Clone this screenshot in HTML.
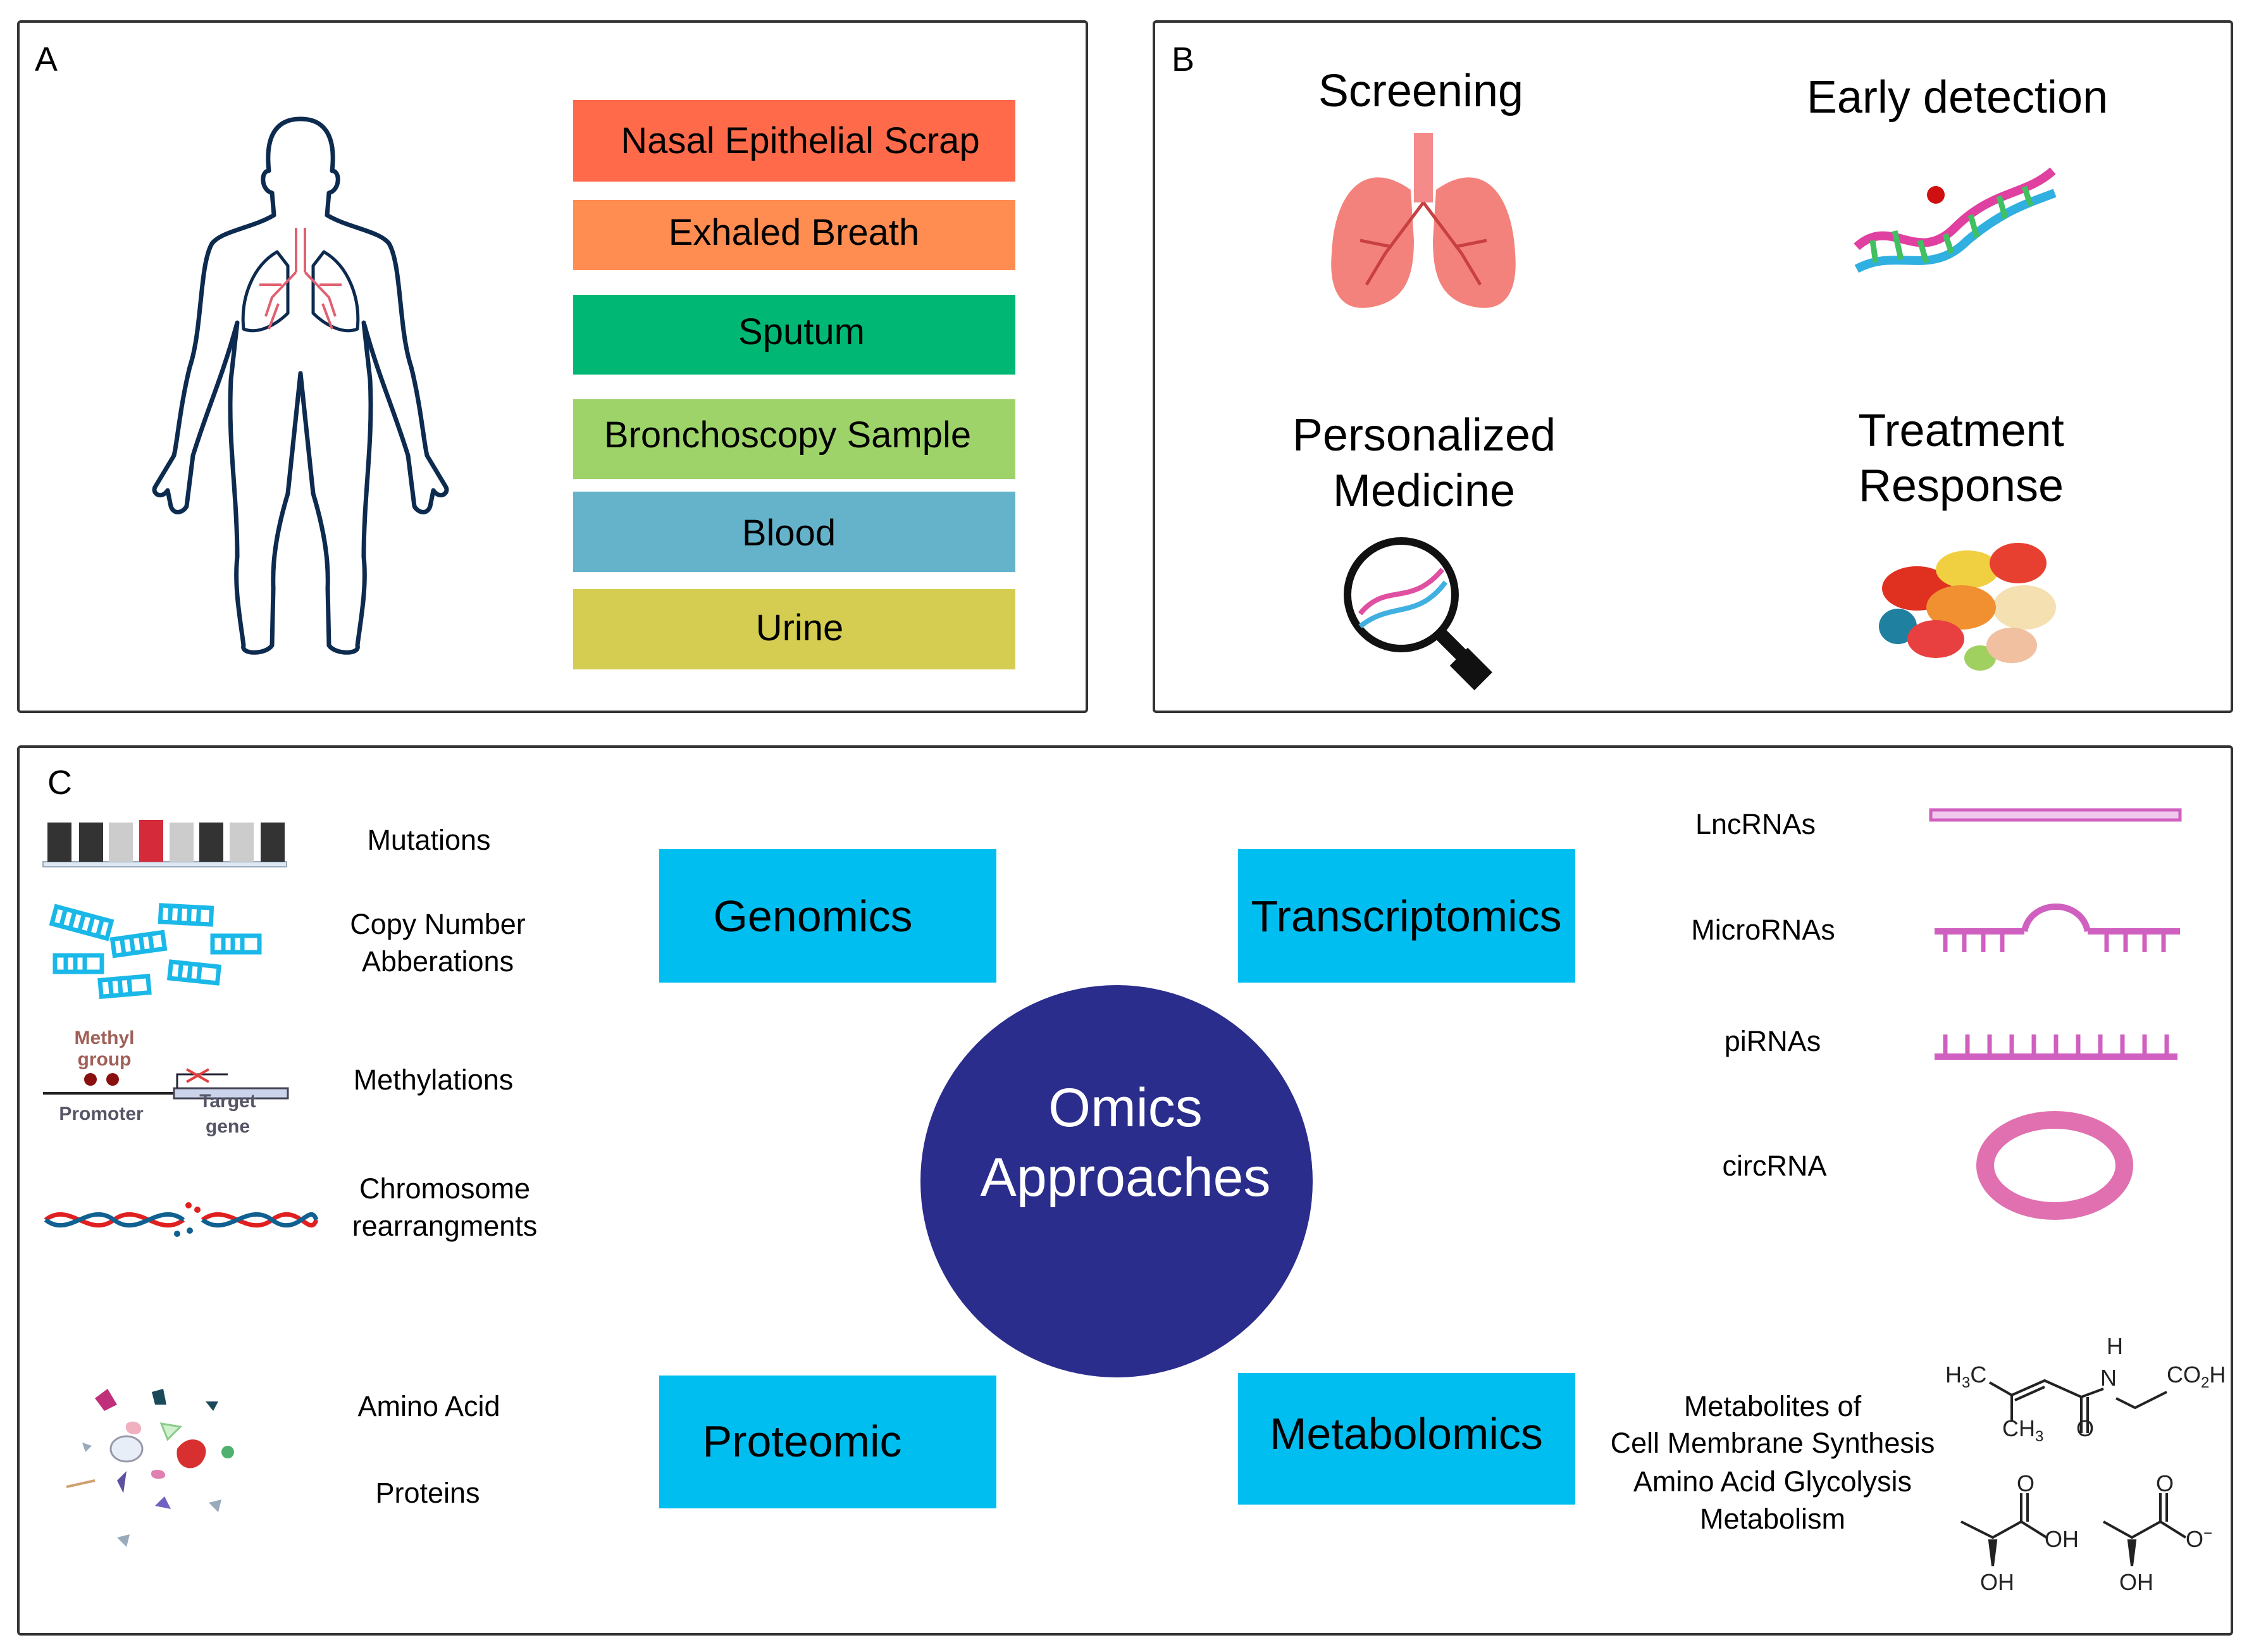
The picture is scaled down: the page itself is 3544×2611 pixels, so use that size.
<!DOCTYPE html>
<html><head><meta charset="utf-8"><style>
html,body{margin:0;padding:0;background:#fff}
svg{display:block}
text{font-family:"Liberation Sans",Arial,sans-serif}
</style></head><body>
<svg width="3544" height="2611" viewBox="0 0 3544 2611" xmlns="http://www.w3.org/2000/svg">
<rect x="29" y="34" width="1689" height="1091" fill="none" stroke="#333" stroke-width="4" rx="4"/>
<rect x="1824" y="34" width="1704" height="1091" fill="none" stroke="#333" stroke-width="4" rx="4"/>
<rect x="29" y="1180" width="3499" height="1403" fill="none" stroke="#333" stroke-width="4" rx="4"/>
<text x="55" y="112" font-size="54">A</text>
<text x="1852" y="112" font-size="54">B</text>
<text x="75" y="1255" font-size="54">C</text>

<g fill="none" stroke="#0d2a4f" stroke-width="7" stroke-linejoin="round">
<path d="M475 188 C430 188 420 225 425 270 C412 270 412 300 430 305 L433 340 C400 360 350 365 335 385 C315 420 320 520 300 580 C285 640 280 700 275 720 L245 770 C240 780 255 790 265 775 L270 800 C275 815 290 810 295 800 L305 720 C330 640 350 600 375 510 L365 600 C360 700 375 780 375 880 C370 930 380 980 385 1020 C380 1035 420 1035 430 1020 L432 930 C430 880 440 830 455 780 L475 590 L495 780 C510 830 520 880 518 930 L520 1020 C530 1035 570 1035 565 1020 C570 980 580 930 575 880 C575 780 590 700 585 600 L575 510 C600 600 620 640 645 720 L655 800 C660 810 675 815 680 800 L685 775 C695 790 710 780 705 770 L675 720 C670 700 665 640 650 580 C630 520 635 420 615 385 C600 365 550 360 517 340 L520 305 C538 300 538 270 525 270 C530 225 520 188 475 188 Z"/>
<path d="M438 398 C400 420 380 470 385 520 C410 530 440 510 455 495 L455 420 Z" stroke-width="5"/>
<path d="M512 398 C550 420 570 470 565 520 C540 530 510 510 495 495 L495 420 Z" stroke-width="5"/>
</g>
<g fill="none" stroke="#e06070" stroke-width="4">
<path d="M468 360 L468 430 M482 360 L482 430 M468 430 L430 470 L420 500 M482 430 L520 470 L530 500 M445 450 L410 450 M505 450 L540 450 M440 480 L425 520 M510 480 L525 520"/>
</g>

<g font-size="58" text-anchor="middle">
<rect x="906" y="158" width="699" height="129" fill="#ff6b4a"/><text x="1265" y="242">Nasal Epithelial Scrap</text>
<rect x="906" y="316" width="699" height="111" fill="#ff8c50"/><text x="1255" y="387">Exhaled Breath</text>
<rect x="906" y="466" width="699" height="126" fill="#00b874"/><text x="1267" y="544">Sputum</text>
<rect x="906" y="631" width="699" height="126" fill="#9ed36a"/><text x="1245" y="707">Bronchoscopy Sample</text>
<rect x="906" y="777" width="699" height="127" fill="#64b3cb"/><text x="1247" y="862">Blood</text>
<rect x="906" y="931" width="699" height="127" fill="#d4cd52"/><text x="1264" y="1012">Urine</text>
</g>

<g font-size="72" text-anchor="middle">
<text x="2246" y="168">Screening</text>
<text x="3094" y="178">Early detection</text>
<text x="2251" y="712">Personalized</text>
<text x="2251" y="800">Medicine</text>
<text x="3100" y="705">Treatment</text>
<text x="3100" y="792">Response</text>
</g>
<g>
<rect x="2235" y="210" width="30" height="110" fill="#f48a8a"/>
<path d="M2230 300 C2160 250 2110 300 2105 400 C2100 460 2120 495 2170 485 C2220 475 2235 440 2235 380 Z" fill="#f4827c"/>
<path d="M2270 300 C2340 250 2390 300 2395 400 C2400 460 2380 495 2330 485 C2280 475 2265 440 2265 380 Z" fill="#f4827c"/>
<path d="M2250 320 L2190 400 L2160 450 M2250 320 L2310 400 L2340 450 M2200 390 L2150 380 M2300 390 L2350 380" stroke="#c84040" stroke-width="5" fill="none"/>
</g>
<g stroke-width="14" fill="none">
<path d="M2935 390 C2990 340 3030 420 3090 360 C3150 300 3200 310 3245 270" stroke="#e040a0"/>
<path d="M2935 425 C3000 390 3050 440 3110 380 C3170 330 3210 320 3248 305" stroke="#30b0e0"/>
<path d="M2960 380 L2965 415 M2995 365 L3005 410 M3035 380 L3045 415 M3075 370 L3085 400 M3115 340 L3125 375 M3160 310 L3170 345 M3200 295 L3210 325" stroke="#40c060" stroke-width="9"/>
<circle cx="3060" cy="308" r="14" fill="#d01010" stroke="none"/>
</g>
<g>
<circle cx="2215" cy="940" r="85" fill="#fff" stroke="#111" stroke-width="12"/>
<path d="M2275 1000 L2340 1065" stroke="#111" stroke-width="22"/>
<rect x="2305" y="1030" width="40" height="55" fill="#111" transform="rotate(-45 2325 1057)"/>
<path d="M2150 970 C2190 920 2230 960 2280 900" stroke="#e050a0" stroke-width="8" fill="none"/>
<path d="M2150 990 C2200 950 2240 980 2285 920" stroke="#40b0e0" stroke-width="8" fill="none"/>
</g>
<g>
<ellipse cx="3030" cy="930" rx="55" ry="35" fill="#e03020"/>
<ellipse cx="3110" cy="900" rx="50" ry="30" fill="#f0d040"/>
<ellipse cx="3190" cy="890" rx="45" ry="32" fill="#e84030"/>
<ellipse cx="3200" cy="960" rx="50" ry="35" fill="#f4e0b0"/>
<ellipse cx="3100" cy="960" rx="55" ry="35" fill="#f09030"/>
<ellipse cx="3000" cy="990" rx="30" ry="28" fill="#2080a0"/>
<ellipse cx="3060" cy="1010" rx="45" ry="30" fill="#e84040"/>
<ellipse cx="3130" cy="1040" rx="25" ry="20" fill="#a0d060"/>
<ellipse cx="3180" cy="1020" rx="40" ry="28" fill="#f0c0a0"/>
</g>

<circle cx="1765" cy="1867" r="310" fill="#2a2d8c"/>
<text x="1779" y="1780" font-size="86" fill="#fff" text-anchor="middle">Omics</text>
<text x="1779" y="1890" font-size="86" fill="#fff" text-anchor="middle">Approaches</text>
<g font-size="70" text-anchor="middle">
<rect x="1042" y="1342" width="533" height="211" fill="#00bff0"/><text x="1285" y="1472">Genomics</text>
<rect x="1957" y="1342" width="533" height="211" fill="#00bff0"/><text x="2223" y="1472">Transcriptomics</text>
<rect x="1042" y="2174" width="533" height="210" fill="#00bff0"/><text x="1268" y="2302">Proteomic</text>
<rect x="1957" y="2170" width="533" height="208" fill="#00bff0"/><text x="2223" y="2290">Metabolomics</text>
</g>

<g font-size="45" text-anchor="middle">
<text x="678" y="1343">Mutations</text>
<text x="692" y="1476">Copy Number</text>
<text x="692" y="1535">Abberations</text>
<text x="685" y="1722">Methylations</text>
<text x="703" y="1894">Chromosome</text>
<text x="703" y="1953">rearrangments</text>
<text x="678" y="2238">Amino Acid</text>
<text x="676" y="2375">Proteins</text>
</g>
<g>
<rect x="68" y="1362" width="385" height="8" fill="#dde8f4" stroke="#9ab" stroke-width="2"/>
<rect x="75" y="1300" width="38" height="62" fill="#333"/>
<rect x="125" y="1300" width="38" height="62" fill="#333"/>
<rect x="172" y="1300" width="38" height="62" fill="#ccc"/>
<rect x="220" y="1296" width="38" height="66" fill="#d42a3a"/>
<rect x="268" y="1300" width="38" height="62" fill="#ccc"/>
<rect x="315" y="1300" width="38" height="62" fill="#333"/>
<rect x="363" y="1300" width="38" height="62" fill="#ccc"/>
<rect x="412" y="1300" width="38" height="62" fill="#333"/>
</g>
<g stroke="#1ab8e8" stroke-width="7" fill="none">
<g transform="translate(129,1458) rotate(15)"><rect x="-45" y="-14" width="90" height="28"/><path d="M-30 -14 V14 M-15 -14 V14 M0 -14 V14 M15 -14 V14 M30 -14 V14"/></g>
<g transform="translate(294,1446) rotate(3)"><rect x="-40" y="-13" width="80" height="26"/><path d="M-25 -13 V13 M-10 -13 V13 M5 -13 V13 M20 -13 V13"/></g>
<g transform="translate(219,1492) rotate(-8)"><rect x="-40" y="-13" width="80" height="26"/><path d="M-25 -13 V13 M-10 -13 V13 M5 -13 V13 M20 -13 V13"/></g>
<g transform="translate(373,1492)"><rect x="-37" y="-13" width="74" height="26"/><path d="M-20 -13 V13 M-5 -13 V13 M10 -13 V13"/></g>
<g transform="translate(124,1523)"><rect x="-37" y="-13" width="74" height="26"/><path d="M-20 -13 V13 M-5 -13 V13 M10 -13 V13"/></g>
<g transform="translate(307,1537) rotate(6)"><rect x="-38" y="-13" width="76" height="26"/><path d="M-22 -13 V13 M-7 -13 V13 M8 -13 V13"/></g>
<g transform="translate(197,1559) rotate(-5)"><rect x="-38" y="-13" width="76" height="26"/><path d="M-22 -13 V13 M-7 -13 V13 M8 -13 V13"/></g>
</g>
<g>
<text x="165" y="1650" font-size="30" fill="#a06058" text-anchor="middle" font-weight="bold">Methyl</text>
<text x="165" y="1684" font-size="30" fill="#a06058" text-anchor="middle" font-weight="bold">group</text>
<line x1="68" y1="1728" x2="275" y2="1728" stroke="#222" stroke-width="4"/>
<circle cx="143" cy="1706" r="10" fill="#8a1010"/><circle cx="178" cy="1706" r="10" fill="#8a1010"/>
<rect x="275" y="1720" width="180" height="16" fill="#cbd4ea" stroke="#445" stroke-width="3"/>
<path d="M280 1720 V1698 H360" stroke="#223" stroke-width="3" fill="none"/>
<path d="M295 1690 L330 1710 M295 1710 L330 1690" stroke="#e04040" stroke-width="4"/>
<text x="160" y="1770" font-size="30" fill="#556" text-anchor="middle" font-weight="bold">Promoter</text>
<text x="360" y="1750" font-size="30" fill="#556" text-anchor="middle" font-weight="bold">Target</text>
<text x="360" y="1790" font-size="30" fill="#556" text-anchor="middle" font-weight="bold">gene</text>
</g>
<g fill="none" stroke-width="7">
<path d="M72 1928 C110 1898 140 1958 180 1928 C220 1898 250 1958 290 1928 M320 1928 C360 1898 390 1958 430 1928 C470 1898 490 1958 500 1928" stroke="#e02020"/>
<path d="M72 1928 C110 1958 140 1898 180 1928 C220 1958 250 1898 290 1928 M320 1928 C360 1958 390 1898 430 1928 C470 1958 490 1898 500 1928" stroke="#106090"/>
</g>
<g fill="#e02020"><circle cx="298" cy="1905" r="5"/><circle cx="312" cy="1912" r="5"/><circle cx="300" cy="1945" r="5" fill="#106090"/><circle cx="280" cy="1950" r="5" fill="#106090"/></g>
<g>
<path d="M150 2210 l20 -15 l15 25 l-20 10 z" fill="#c0307a"/>
<path d="M240 2200 l18 -5 l5 25 l-18 0 z" fill="#1a4a5a"/>
<path d="M325 2215 l20 0 l-8 15 z" fill="#1a4a5a"/>
<path d="M200 2250 c15 -10 30 5 20 15 c-10 5 -25 0 -20 -15z" fill="#f0b0c0"/>
<path d="M255 2250 l30 5 l-20 20 z" fill="#d0f0d0" stroke="#8c8" stroke-width="3"/>
<ellipse cx="200" cy="2290" rx="25" ry="20" fill="#e8eef8" stroke="#99a" stroke-width="3"/>
<path d="M280 2290 c20 -30 60 -10 40 20 c-15 20 -45 10 -40 -20z" fill="#d83030"/>
<circle cx="360" cy="2295" r="10" fill="#50b070"/>
<path d="M185 2340 l15 -15 l-5 35 z" fill="#6050a0"/>
<path d="M240 2325 c10 -5 25 0 20 10 c-10 5 -25 2 -20 -10z" fill="#e080b0"/>
<path d="M245 2380 l15 -15 l10 20 z" fill="#7060c0"/>
<path d="M330 2375 l20 -5 l-5 20 z" fill="#9ab"/>
<path d="M185 2430 l20 -5 l-5 20 z" fill="#9ab"/>
<line x1="105" y1="2350" x2="150" y2="2340" stroke="#d0a070" stroke-width="4"/>
<path d="M130 2280 l15 5 l-10 10 z" fill="#9ab"/>
</g>

<g font-size="45" text-anchor="middle">
<text x="2775" y="1318">LncRNAs</text>
<text x="2787" y="1485">MicroRNAs</text>
<text x="2802" y="1661">piRNAs</text>
<text x="2805" y="1858">circRNA</text>
<text x="2802" y="2238">Metabolites of</text>
<text x="2802" y="2296">Cell Membrane Synthesis</text>
<text x="2802" y="2357">Amino Acid Glycolysis</text>
<text x="2802" y="2416">Metabolism</text>
</g>
<g stroke="#d060c0" fill="none">
<rect x="3052" y="1280" width="394" height="16" stroke-width="5" fill="#f0c8ec"/>
<path d="M3058 1472 H3200 M3300 1472 H3446 M3200 1472 C3210 1420 3290 1420 3300 1472" stroke-width="10"/>
<path d="M3075 1472 V1505 M3105 1472 V1505 M3135 1472 V1505 M3165 1472 V1505 M3330 1472 V1505 M3360 1472 V1505 M3390 1472 V1505 M3420 1472 V1505" stroke-width="7"/>
<path d="M3058 1670 H3442" stroke-width="10"/>
<path d="M3075 1670 V1635 M3110 1670 V1635 M3145 1670 V1635 M3180 1670 V1635 M3215 1670 V1635 M3250 1670 V1635 M3285 1670 V1635 M3320 1670 V1635 M3355 1670 V1635 M3390 1670 V1635 M3425 1670 V1635" stroke-width="7"/>
<ellipse cx="3248" cy="1842" rx="110" ry="72" stroke="#e070b0" stroke-width="28"/>
</g>
<g stroke="#222" stroke-width="4" fill="none">
<path d="M3145 2185 L3180 2205 L3232 2182 L3290 2208 L3325 2195 M3185 2213 L3232 2192 M3180 2205 V2245 M3290 2208 V2265 M3300 2208 V2265 M3345 2210 L3375 2225 L3425 2200"/>
<g transform="translate(0,-95)">
<path d="M3100 2500 L3150 2525 L3195 2500 L3235 2525 M3195 2500 V2455 M3205 2500 V2455 M3325 2500 L3370 2525 L3415 2500 L3455 2525 M3415 2500 V2455 M3425 2500 V2455"/>
<path d="M3145 2530 L3155 2530 L3150 2570 Z M3365 2530 L3375 2530 L3370 2570 Z" fill="#222"/>
</g>
</g>
<g font-size="36" fill="#222">
<text x="3075" y="2185">H<tspan font-size="24" dy="8">3</tspan><tspan dy="-8">C</tspan></text>
<text x="3330" y="2140">H</text>
<text x="3320" y="2190">N</text>
<text x="3425" y="2185">CO<tspan font-size="24" dy="8">2</tspan><tspan dy="-8">H</tspan></text>
<text x="3165" y="2270">CH<tspan font-size="24" dy="8">3</tspan></text>
<text x="3282" y="2270">O</text>
<g transform="translate(0,-95)">
<text x="3188" y="2452">O</text>
<text x="3408" y="2452">O</text>
<text x="3232" y="2540">OH</text>
<text x="3455" y="2540">O<tspan font-size="24" dy="-14">−</tspan></text>
<text x="3130" y="2608">OH</text>
<text x="3350" y="2608">OH</text>
</g>
</g>
</svg>
</body></html>
